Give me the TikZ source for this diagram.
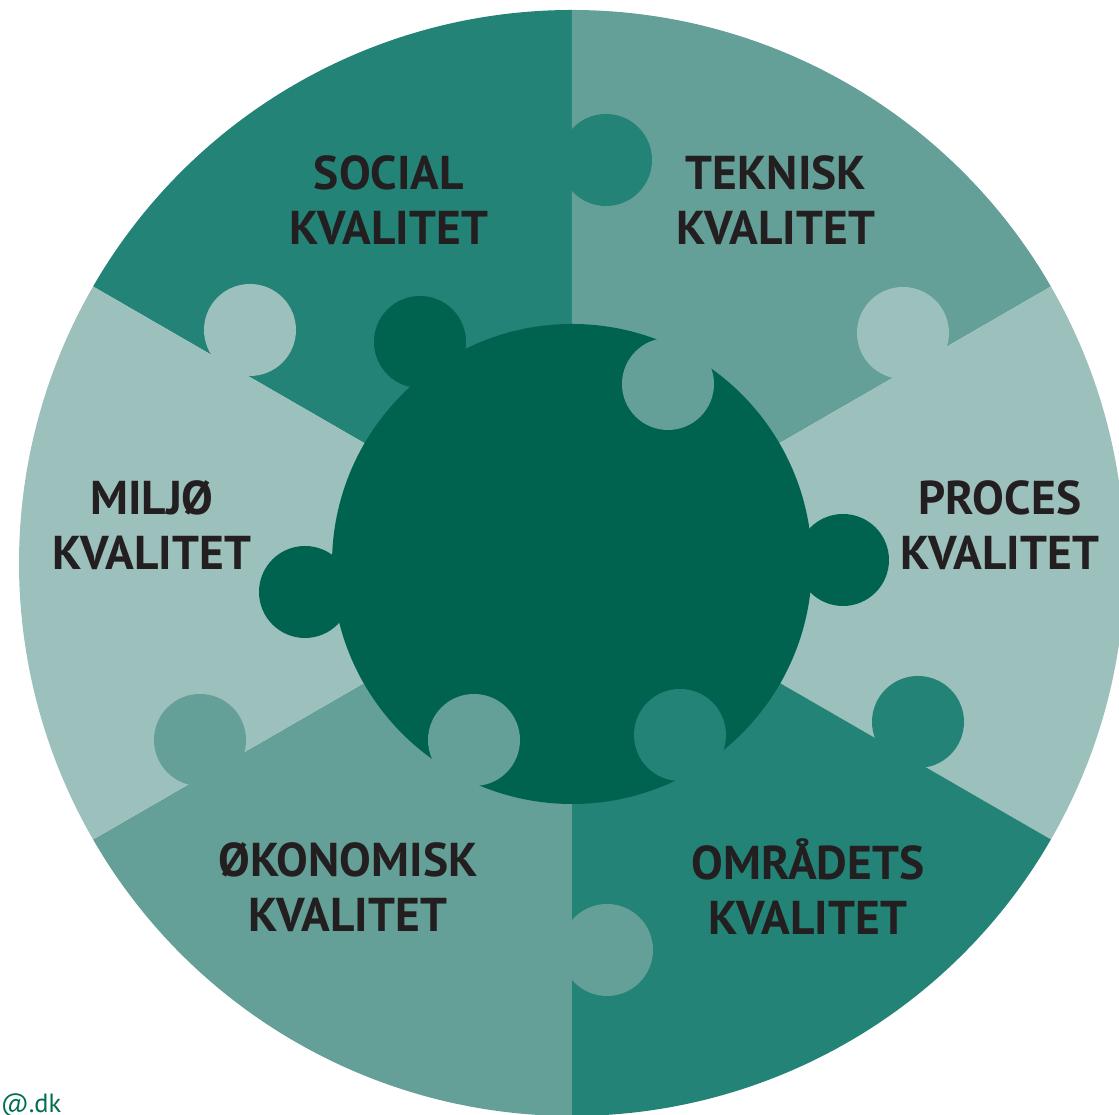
\documentclass[tikz,border=0pt]{standalone}
\usepackage{fontspec}
\setmainfont{PT Sans}
\usetikzlibrary{positioning}
\definecolor{kvdark}{RGB}{0,99,80}
\definecolor{kvmid}{RGB}{35,131,119}
\definecolor{kvlight}{RGB}{100,160,151}
\definecolor{kvpale}{RGB}{156,192,188}
\definecolor{kvtext}{RGB}{35,31,32}
\definecolor{kvmail}{RGB}{0,110,80}

\begin{document}
\begin{tikzpicture}[
    kvlabel/.style={align=center, text=kvtext, font=\bfseries\fontsize{13.5}{15.6}\selectfont}
]
        \useasboundingbox (-5.72,-5.52) rectangle (5.47,5.63);
        % Sectors
        \fill[kvmid] (0,0) -- (90:5.53) arc[start angle=90, end angle=150, radius=5.53] -- cycle;
        \fill[kvlight] (0,0) -- (30:5.53) arc[start angle=30, end angle=90, radius=5.53] -- cycle;
        \fill[kvpale] (0,0) -- (-30:5.53) arc[start angle=-30, end angle=30, radius=5.53] -- cycle;
        \fill[kvmid] (0,0) -- (-90:5.53) arc[start angle=-90, end angle=-30, radius=5.53] -- cycle;
        \fill[kvlight] (0,0) -- (210:5.53) arc[start angle=210, end angle=270, radius=5.53] -- cycle;
        \fill[kvpale] (0,0) -- (150:5.53) arc[start angle=150, end angle=210, radius=5.53] -- cycle;
        % Outer knobs
        \fill[kvmid] (0.34,4.03) circle (0.46);
        \fill[kvpale] (-3.22,2.33) circle (0.46);
        \fill[kvpale] (3.31,2.30) circle (0.46);
        \fill[kvmid] (3.46,-1.59) circle (0.46);
        \fill[kvlight] (0.35,-3.87) circle (0.46);
        \fill[kvlight] (-3.72,-1.77) circle (0.46);
        % Centre
        \fill[kvdark] (0,-0.01) circle (2.40);
        % Inner knobs
        \fill[kvdark] (-1.52,2.21) circle (0.46);
        \fill[kvdark] (2.71,0.03) circle (0.46);
        \fill[kvdark] (-2.67,-0.29) circle (0.46);
        \fill[kvlight] (0.96,1.79) circle (0.46);
        \fill[kvmid] (1.08,-1.72) circle (0.46);
        \fill[kvlight] (-0.98,-1.77) circle (0.46);
        % Labels
        \node[kvlabel] (social) at (-1.83,3.63) {SOCIAL\\KVALITET};
        \node[kvlabel] (teknisk) at (2.04,3.63) {TEKNISK\\KVALITET};
        \node[kvlabel] (proces) at (4.28,0.38) {PROCES\\KVALITET};
        \node[kvlabel] (miljo) at (-4.20,0.38) {MILJØ\\KVALITET};
        \node[kvlabel] (okonomisk) at (-2.24,-3.24) {ØKONOMISK\\KVALITET};
        \node[kvlabel] (omradets) at (2.36,-3.24) {OMRÅDETS\\KVALITET};
        % Mail
        \node[anchor=base east, text=kvmail, font=\fontsize{7.5}{9}\selectfont, inner sep=0pt] (mail) at (-5.10,-5.50) {@.dk};
\end{tikzpicture}
\end{document}
